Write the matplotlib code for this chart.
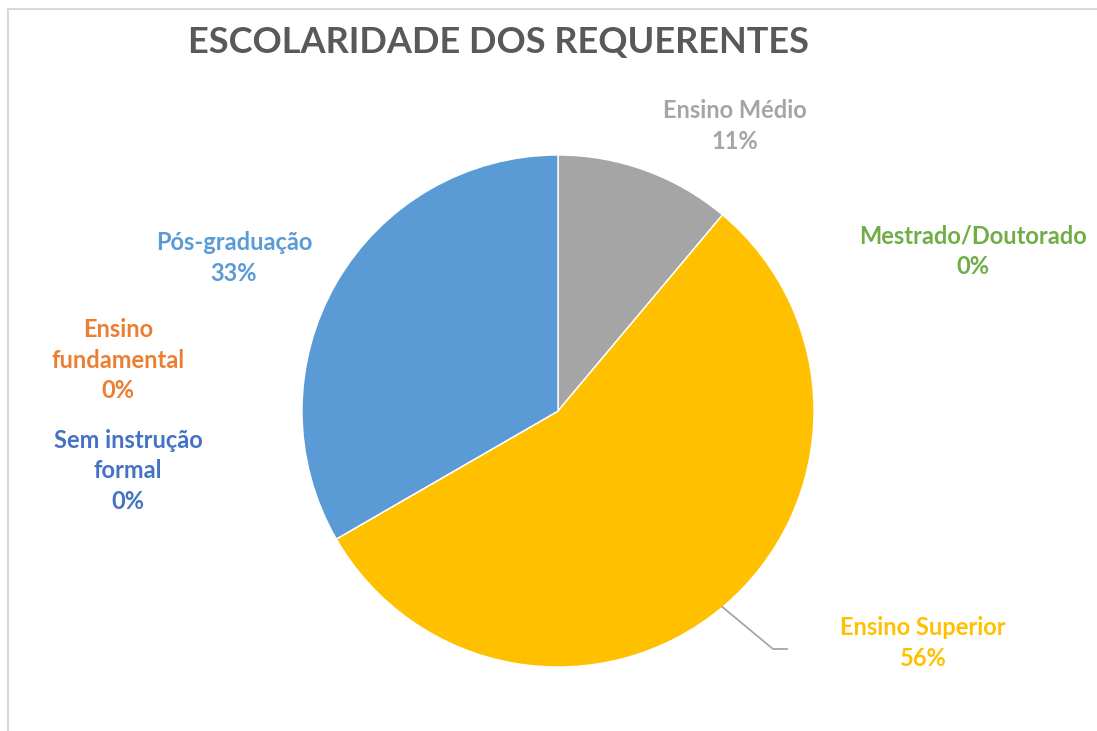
import numpy as np
import matplotlib.pyplot as plt
from matplotlib.patches import Rectangle

# data (9 requerentes: 1, 0, 5, 0, 0, 3)
categorias = ['Ensino Médio', 'Mestrado/Doutorado', 'Ensino Superior',
              'Sem instrução\nformal', 'Ensino\nfundamental', 'Pós-graduação']
valores = [1, 0, 5, 0, 0, 3]
cores = ['#A5A5A5', '#70AD47', '#FFC000', '#4472C4', '#ED7D31', '#5B9BD5']

W, H = 1097, 731
fig = plt.figure(figsize=(W / 100, H / 100), dpi=100)
ax = fig.add_axes([0, 0, 1, 1])

# frame
ax.add_patch(Rectangle((8, -10), W + 20, H - 9 + 10, fill=False,
                       edgecolor='#D9D9D9', linewidth=1.5))

cx, cy, r = 558, H - 411, 256
wedges, _ = ax.pie(valores, colors=cores, startangle=90, counterclock=False,
                   center=(cx, cy), radius=r, frame=True,
                   wedgeprops=dict(edgecolor='white', linewidth=1))
ax.set_xlim(0, W)
ax.set_ylim(0, H)
ax.set_aspect('equal')
ax.axis('off')

plt.rcParams['font.family'] = ['Lato', 'DejaVu Sans']

ax.text(499, H - 42, 'ESCOLARIDADE DOS REQUERENTES', ha='center', va='center',
        fontsize=26, fontweight='bold', color='#595959')

total = sum(valores)
pct = [round(v / total * 100) for v in valores]

# label positions (pixel coords, y from top)
pos = [(735, 126), (973, 251), (923, 643), (128, 471), (118, 360), (234, 258)]
for cat, p, c, (x, y) in zip(categorias, pct, cores, pos):
    ax.text(x, H - y, f'{cat}\n{p}%', ha='center', va='center', fontsize=17,
            fontweight='bold', color=c, linespacing=1.42)

# leader line for Ensino Superior
w = wedges[2]
mid = np.deg2rad((w.theta1 + w.theta2) / 2)
x0, y0 = cx + r * np.cos(mid), cy + r * np.sin(mid)
ax.plot([x0, 773, 787], [y0, H - 649, H - 649], color='#A6A6A6', linewidth=1.3)

fig.savefig('out.png', dpi=100)
